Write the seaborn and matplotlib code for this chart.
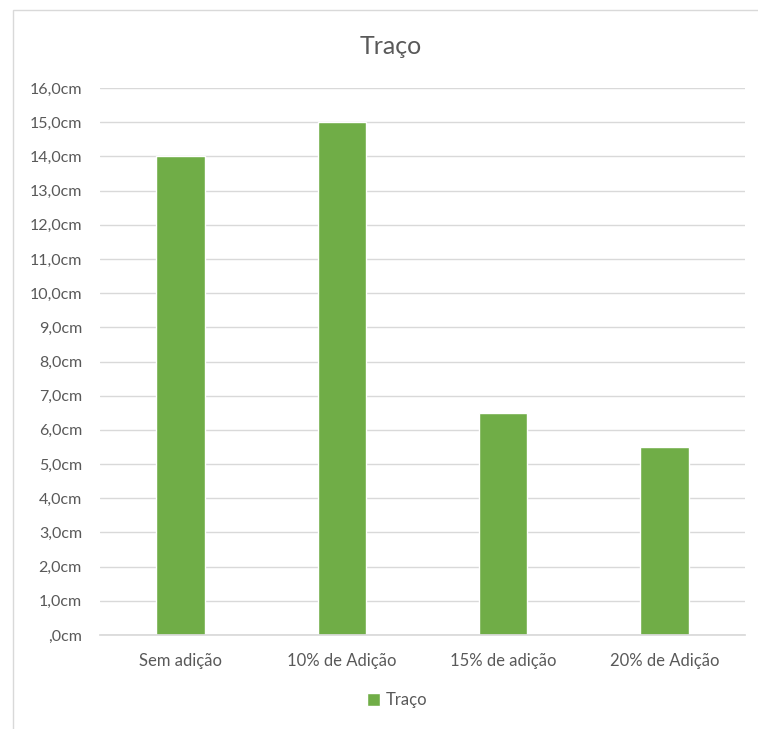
import matplotlib
matplotlib.use("Agg")
import matplotlib.pyplot as plt
import matplotlib.patches as mpatches
import seaborn as sns
import pandas as pd
from matplotlib.ticker import FuncFormatter

categorias = ["Sem adição", "10% de Adição", "15% de adição", "20% de Adição"]
traco = [14.0, 15.0, 6.5, 5.5]
serie = "Traço"

df = pd.DataFrame({"categoria": categorias, "valor": traco, "serie": serie})

sns.set_theme(style="white")
plt.rcParams["font.family"] = ["Lato", "DejaVu Sans"]

verde = "#70AD47"
texto = "#595959"
grade = "#D9D9D9"

fig = plt.figure(figsize=(7.58, 7.29), dpi=100)
ax = fig.add_axes([100 / 758, 1 - 635 / 729, 645 / 758, 547 / 729])

sns.barplot(data=df, x="categoria", y="valor", hue="serie", palette=[verde],
            width=0.3, ax=ax, legend=True, saturation=1)

ax.set_ylim(0, 16)
ax.set_yticks(range(0, 17))
ax.yaxis.set_major_formatter(FuncFormatter(
    lambda v, p: (",0cm" if v == 0 else f"{int(v)},0cm")))
ax.set_xlabel("")
ax.set_ylabel("")
ax.grid(axis="y", color=grade, linewidth=1)
ax.set_axisbelow(True)
for s in ["top", "right", "left"]:
    ax.spines[s].set_visible(False)
ax.spines["bottom"].set_color(grade)
ax.tick_params(axis="y", length=0, colors=texto, labelsize=11.5, pad=13)
ax.tick_params(axis="x", length=0, colors=texto, labelsize=12, pad=13)

fig.suptitle("Traço", x=391 / 758, y=1 - 47 / 729, va="center",
             fontsize=18, color=texto)

leg = ax.legend(loc="center", bbox_to_anchor=(397 / 758, 1 - 700 / 729),
                bbox_transform=fig.transFigure, frameon=False,
                handlelength=0.8, handleheight=0.8, handletextpad=0.3,
                fontsize=12)
for t in leg.get_texts():
    t.set_color(texto)

# chart area border
fig.add_artist(mpatches.Rectangle((13 / 758, -0.01), 1.0, 1 - 10 / 729 + 0.01,
                                  transform=fig.transFigure, fill=False,
                                  edgecolor="#D9D9D9", linewidth=1))

fig.savefig("out.png", dpi=100)
